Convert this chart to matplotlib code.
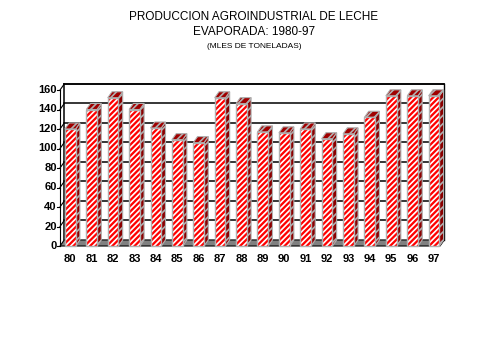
import numpy as np
import matplotlib
matplotlib.use('Agg')
from matplotlib import pyplot as plt
from matplotlib.patches import Polygon, Rectangle

plt.rcParams['font.family'] = ['Liberation Sans', 'DejaVu Sans']
plt.rcParams['hatch.linewidth'] = 1.2

years = ['80', '81', '82', '83', '84', '85', '86', '87', '88',
         '89', '90', '91', '92', '93', '94', '95', '96', '97']
values = [120, 140, 152, 140, 121, 109, 106, 152, 146,
          117, 116, 120, 110, 115, 132, 154, 154, 154]
yticks = [0, 20, 40, 60, 80, 100, 120, 140, 160]

W, H = 479, 359
fig = plt.figure(figsize=(W / 100, H / 100), dpi=100)
# axes box in pixels: x 60..440, y 90..246
ax = fig.add_axes([60 / W, (H - 246) / H, 380 / W, 156 / H])
x0, x1 = -0.48, 17.28
ax.set_xlim(x0, x1)
ax.set_ylim(0, 160)
ax.axis('off')

dx, dy = 0.2, 6.2     # 3d depth offset
bw = 0.5

# back wall frame and grid
for t in yticks[1:]:
    ax.plot([x0 + dx, x1 + dx], [t + dy, t + dy], color='black', lw=1.1,
            clip_on=False, zorder=1)
    ax.plot([x0, x0 + dx], [t, t + dy], color='black', lw=0.8, clip_on=False, zorder=1)
ax.plot([x0 + dx, x1 + dx], [166.5, 166.5], color='black', lw=1.1, clip_on=False, zorder=1)
ax.plot([x0 + dx, x0 + dx], [dy, 166.5], color='black', lw=1.1, clip_on=False, zorder=1)
ax.plot([x1 + dx, x1 + dx], [dy, 166.5], color='black', lw=1.0, clip_on=False, zorder=1)
ax.plot([x0, x0], [0, 160], color='black', lw=0.8, clip_on=False, zorder=1)
# floor
ax.add_patch(Polygon([(x0, 0), (x1, 0), (x1 + dx, dy), (x0 + dx, dy)],
                     closed=True, fc='#808080', ec='black', lw=0.8,
                     clip_on=False, zorder=2))
for t in yticks:
    ax.plot([x0 - 0.12, x0], [t, t], color='black', lw=0.8, clip_on=False)
    ax.text(x0 - 0.15, t, str(t), ha='right', va='center', fontsize=8,
            fontweight='bold', clip_on=False)

# bars
for i, v in enumerate(values):
    l, r = i - bw / 2, i + bw / 2
    ax.add_patch(Polygon([(r, 0), (r + dx, dy), (r + dx, v + dy), (r, v)],
                         closed=True, fc='#8b0000', ec='#b0b0b0', lw=0.8,
                         hatch='////', clip_on=False, zorder=3))
    ax.add_patch(Polygon([(l, v), (r, v), (r + dx, v + dy), (l + dx, v + dy)],
                         closed=True, fc='#a00000', ec='#b0b0b0', lw=0.8,
                         hatch='////', clip_on=False, zorder=3))
    ax.add_patch(Rectangle((l, 0), bw, v, fc='#ff0000', ec='white', lw=0,
                           hatch='//////', clip_on=False, zorder=3))
    ax.add_patch(Rectangle((l, 0), bw, v, fill=False, ec='#b0b0b0', lw=1.0,
                           clip_on=False, zorder=3))
    ax.text(i, -8, years[i], ha='center', va='top', fontsize=8,
            fontweight='bold', clip_on=False)

fig.text(254 / W, 1 - 17 / H, 'PRODUCCION AGROINDUSTRIAL DE LECHE',
         ha='center', va='center', fontsize=8.5)
fig.text(254 / W, 1 - 32 / H, 'EVAPORADA: 1980-97',
         ha='center', va='center', fontsize=8.5)
fig.text(254 / W, 1 - 47 / H, '(MLES DE TONELADAS)',
         ha='center', va='center', fontsize=6)

fig.savefig('out.png', dpi=100)
